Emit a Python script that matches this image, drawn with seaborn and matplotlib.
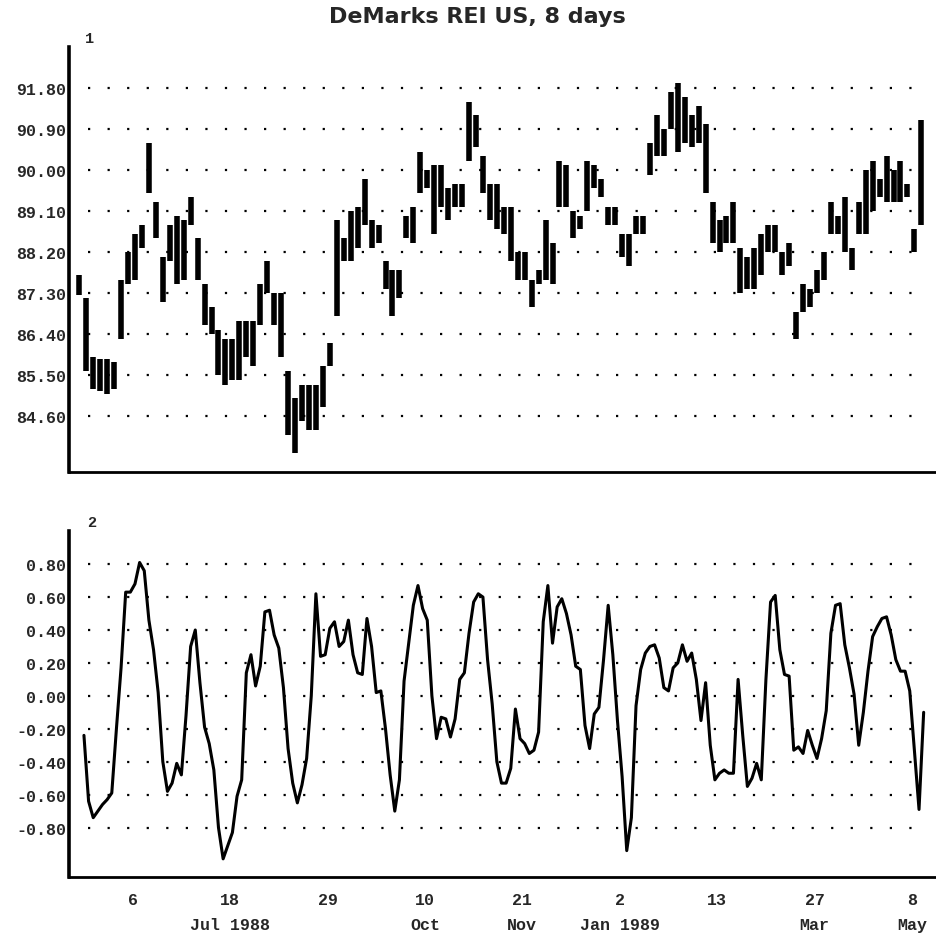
import pandas as pd
import matplotlib
matplotlib.use('Agg')
import matplotlib.pyplot as plt
import matplotlib.dates as mdates
import seaborn as sns

# price bars (high / low), one every 3 days from 14 May 1988
price_high = [87.70, 87.2, 85.9, 85.85, 85.85, 85.8, 87.6, 88.2, 88.6, 88.8,
              90.6, 89.3, 88.1, 88.8, 89.0, 88.9, 89.4, 88.5, 87.5, 87.0,
              86.5, 86.3, 86.3, 86.7, 86.7, 86.7, 87.5, 88.0, 87.3, 87.3,
              85.6, 85.0, 85.3, 85.3, 85.3, 85.7, 86.2, 88.9, 88.5, 89.1,
              89.2, 89.8, 88.9, 88.8, 88.0, 87.8, 87.8, 89.0, 89.2, 90.4,
              90.0, 90.1, 90.1, 89.6, 89.7, 89.7, 91.5, 91.2, 90.3, 89.7,
              89.7, 89.2, 89.2, 88.2, 88.2, 87.6, 87.8, 88.9, 88.4, 90.2,
              90.1, 89.1, 89.0, 90.2, 90.1, 89.8, 89.2, 89.2, 88.6, 88.6,
              89.0, 89.0, 90.6, 91.2, 90.9, 91.7, 91.9, 91.6, 91.2, 91.4,
              91.0, 89.3, 88.9, 89.0, 89.3, 88.3, 88.1, 88.3, 88.6, 88.8,
              88.8, 88.2, 88.4, 86.9, 87.5, 87.4, 87.8, 88.2, 89.3, 89.0,
              89.4, 88.3, 89.3, 90.0, 90.2, 89.8, 90.3, 90.0, 90.2, 89.7,
              88.7, 91.1]
price_low = [87.26, 85.6, 85.2, 85.15, 85.1, 85.2, 86.3, 87.5, 87.6, 88.3,
             89.5, 88.5, 87.1, 88.0, 87.5, 87.6, 88.8, 87.6, 86.6, 86.4,
             85.5, 85.3, 85.4, 85.4, 85.9, 85.7, 86.6, 87.3, 86.6, 85.9,
             84.2, 83.8, 84.5, 84.3, 84.3, 84.8, 85.7, 86.8, 88.0, 88.0,
             88.3, 88.8, 88.3, 88.4, 87.4, 86.8, 87.2, 88.5, 88.4, 89.5,
             89.6, 88.6, 89.2, 88.9, 89.2, 89.2, 90.2, 90.5, 89.5, 88.9,
             88.7, 88.6, 88.0, 87.6, 87.6, 87.0, 87.5, 87.6, 87.5, 89.2,
             89.2, 88.5, 88.7, 89.1, 89.6, 89.4, 88.8, 88.8, 88.1, 87.9,
             88.6, 88.6, 89.9, 90.3, 90.3, 90.9, 90.4, 90.6, 90.5, 90.6,
             89.5, 88.4, 88.2, 88.4, 88.4, 87.3, 87.4, 87.4, 87.7, 88.2,
             88.2, 87.7, 87.9, 86.3, 86.9, 87.0, 87.3, 87.6, 88.6, 88.6,
             88.2, 87.8, 88.6, 88.6, 89.1, 89.4, 89.3, 89.3, 89.3, 89.4,
             88.2, 88.8]

# oscillator, one value every 2 days from 16 May 1988
rei = [-0.24, -0.64, -0.74, -0.70, -0.66, -0.63, -0.59, -0.20, 0.17, 0.63,
       0.63, 0.68, 0.81, 0.76, 0.46, 0.28, 0.02, -0.40, -0.58, -0.53,
       -0.41, -0.48, -0.12, 0.30, 0.40, 0.08, -0.19, -0.29, -0.45, -0.80,
       -0.99, -0.91, -0.83, -0.61, -0.51, 0.14, 0.25, 0.06, 0.18, 0.51,
       0.52, 0.37, 0.29, 0.05, -0.32, -0.53, -0.65, -0.54, -0.38, 0.00,
       0.62, 0.24, 0.25, 0.41, 0.45, 0.30, 0.33, 0.46, 0.25, 0.14,
       0.13, 0.47, 0.30, 0.02, 0.03, -0.20, -0.48, -0.70, -0.51, 0.09,
       0.32, 0.55, 0.67, 0.53, 0.46, 0.00, -0.26, -0.13, -0.14, -0.25,
       -0.14, 0.10, 0.14, 0.38, 0.57, 0.62, 0.60, 0.22, -0.05, -0.40,
       -0.53, -0.53, -0.44, -0.08, -0.26, -0.29, -0.35, -0.33, -0.22, 0.45,
       0.67, 0.32, 0.54, 0.59, 0.50, 0.37, 0.18, 0.16, -0.18, -0.32,
       -0.11, -0.07, 0.22, 0.55, 0.25, -0.15, -0.49, -0.94, -0.74, -0.06,
       0.16, 0.26, 0.30, 0.31, 0.23, 0.05, 0.03, 0.17, 0.20, 0.31,
       0.21, 0.26, 0.10, -0.15, 0.08, -0.30, -0.51, -0.47, -0.45, -0.47,
       -0.47, 0.10, -0.24, -0.55, -0.50, -0.41, -0.51, 0.10, 0.57, 0.61,
       0.28, 0.13, 0.12, -0.33, -0.31, -0.35, -0.21, -0.30, -0.38, -0.26,
       -0.09, 0.38, 0.55, 0.56, 0.31, 0.17, 0.01, -0.30, -0.10, 0.15,
       0.36, 0.42, 0.47, 0.48, 0.37, 0.22, 0.15, 0.15, 0.03, -0.33,
       -0.69, -0.10]

price_ticks = [84.60, 85.50, 86.40, 87.30, 88.20, 89.10, 90.00, 90.90, 91.80]
rei_ticks = [-0.80, -0.60, -0.40, -0.20, 0.00, 0.20, 0.40, 0.60, 0.80]
x_labels = ['6', '18\nJul 1988', '29', '10\nOct', '21\nNov',
            '2\nJan 1989', '13', '27\nMar', '8\nMay']

price_dates = pd.date_range('1988-05-14', periods=len(price_high), freq='3D')
rei_dates = pd.date_range('1988-05-16', periods=len(rei), freq='2D')
tick_dates = pd.date_range('1988-05-16', periods=18, freq='21D')

sns.set_style('white')
plt.rcParams['font.family'] = ['Liberation Mono', 'DejaVu Sans Mono']
plt.rcParams['font.weight'] = 'bold'

fig = plt.figure(figsize=(9.37, 9.37), dpi=100)
ax1 = fig.add_axes([0.0736, 0.495, 0.9264, 0.454])
ax2 = fig.add_axes([0.0736, 0.063, 0.9264, 0.369])

ax1.vlines(price_dates, price_low, price_high, color='black', linewidth=4.0)
sns.lineplot(x=rei_dates, y=rei, ax=ax2, color='black', linewidth=2.2)

xlim = (mdates.date2num(pd.Timestamp('1988-05-09 13:00')),
        mdates.date2num(pd.Timestamp('1989-05-18 18:00')))

for ax, ticks, ylim in [(ax1, price_ticks, (83.38, 92.70)),
                        (ax2, rei_ticks, (-1.10, 1.00))]:
    ax.set_xlim(xlim)
    ax.set_ylim(ylim)
    for t in ticks:
        ax.axhline(t, xmin=0.022, xmax=0.971, color='black', linewidth=1.6,
                   linestyle=(0, (1, 7.8)), zorder=0)
    ax.set_yticks(ticks)
    ax.set_yticklabels(['{:.2f}'.format(t) for t in ticks], fontsize=12, fontweight='bold')
    ax.set_xticks(tick_dates)
    for side in ['top', 'right']:
        ax.spines[side].set_visible(False)
    ax.spines['left'].set_linewidth(2.6)
    ax.spines['bottom'].set_linewidth(2.0)
    ax.spines['left'].set_color('black')
    ax.spines['bottom'].set_color('black')
    ax.tick_params(axis='x', direction='in', length=7, width=2, color='black')
    ax.tick_params(axis='y', direction='in', length=3, width=1.5, pad=2, color='black')
    ax.set_xlabel('')
    ax.set_ylabel('')

ax1.set_xticklabels([''] * len(tick_dates))
labels = []
k = 0
for i in range(len(tick_dates)):
    if i % 2 == 1:
        labels.append(x_labels[k])
        k += 1
    else:
        labels.append('')
ax2.set_xticklabels(labels, fontsize=12, fontweight='bold')
for lbl in ax2.get_xticklabels():
    lbl.set_linespacing(1.8)
ax2.tick_params(axis='x', pad=11)

ax1.text(0.018, 1.005, '1', transform=ax1.transAxes, fontsize=11, fontweight='bold', va='bottom')
ax2.text(0.021, 1.005, '2', transform=ax2.transAxes, fontsize=11, fontweight='bold', va='bottom')

fig.text(0.51, 0.982, 'DeMarks REI US, 8 days', ha='center', va='center',
         fontsize=16, fontweight='bold', family='DejaVu Sans')

fig.savefig('out.png', dpi=100, facecolor='white')
